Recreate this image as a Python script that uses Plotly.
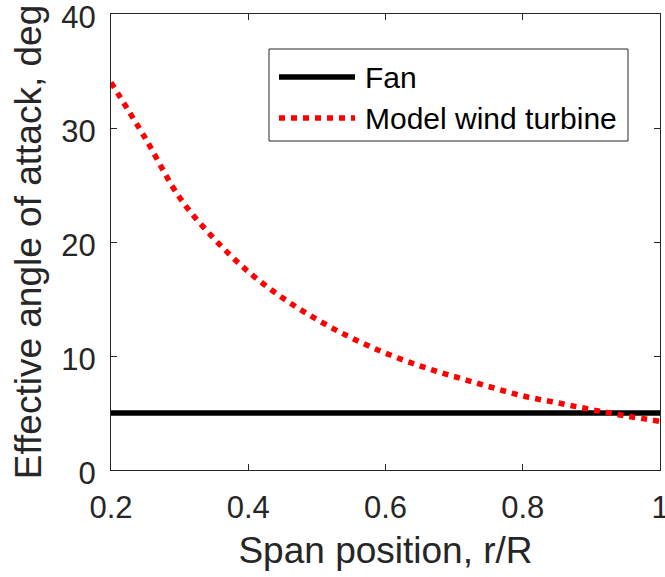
import plotly.graph_objects as go

# ---- data ----
span = [0.20, 0.25, 0.30, 0.35, 0.40, 0.45, 0.50, 0.55, 0.60, 0.65,
        0.70, 0.75, 0.80, 0.85, 0.90, 0.95, 1.00]
turbine_aoa = [34.0, 29.1, 23.9, 20.3, 17.4, 15.1, 13.2, 11.6, 10.25, 9.14,
               8.2, 7.33, 6.5, 5.9, 5.3, 4.75, 4.27]
fan_span = [0.2, 1.0]
fan_aoa = [5.0, 5.0]
series_names = ["Fan", "Model wind turbine"]
x_ticks = [0.2, 0.4, 0.6, 0.8, 1.0]
x_tick_text = ["0.2", "0.4", "0.6", "0.8", "1"]
y_ticks = [0, 10, 20, 30, 40]

W, H = 665, 577
L, R, T, B = 111, 5, 14, 107
PW, PH = W - L - R, H - T - B


def px(x):
    return (x - L) / PW


def py(y):
    return 1 - (y - T) / PH


FONT = "Liberation Sans, Arial, Helvetica, sans-serif"
AX = "#262626"

fig = go.Figure()
fig.add_trace(go.Scatter(x=fan_span, y=fan_aoa, mode="lines", name=series_names[0],
                         line=dict(color="black", width=5.5), showlegend=False))
fig.add_trace(go.Scatter(x=span, y=turbine_aoa, mode="lines", name=series_names[1],
                         line=dict(color="#ff0000", width=5.5, dash="6px,6px", shape="spline"),
                         showlegend=False))

axis_common = dict(showline=True, linecolor=AX, linewidth=1, mirror="ticks",
                   ticks="inside", ticklen=6, tickcolor=AX, tickwidth=1,
                   showgrid=False, zeroline=False, automargin=False,
                   ticklabeloverflow="allow",
                   tickfont=dict(family=FONT, size=31, color=AX))

fig.update_xaxes(range=[0.2, 1.0], tickvals=x_ticks, ticktext=x_tick_text,
                 ticklabelstandoff=10,
                 title=dict(text="Span position, r/R", font=dict(family=FONT, size=37, color=AX),
                            standoff=12),
                 **axis_common)
fig.update_yaxes(range=[0, 40], tickvals=y_ticks, ticklabelstandoff=8, ticklabelshift=3,
                 title=dict(text="Effective angle of attack, deg",
                            font=dict(family=FONT, size=37, color=AX), standoff=8),
                 **axis_common)

# ---- custom legend (MATLAB style) ----
shapes = [dict(type="rect", xref="paper", yref="paper",
               x0=px(269), x1=px(628), y0=py(141), y1=py(49),
               line=dict(color=AX, width=1), fillcolor="white", layer="above")]
annotations = []
legend_rows = [(series_names[0], 77, dict(color="black", width=5.5)),
               (series_names[1], 118, dict(color="#ff0000", width=5.5, dash="6px,6px"))]
for name, yy, ln in legend_rows:
    shapes.append(dict(type="line", xref="paper", yref="paper",
                       x0=px(279), x1=px(355), y0=py(yy), y1=py(yy), line=ln, layer="above"))
    annotations.append(dict(xref="paper", yref="paper", x=px(363), y=py(yy),
                            xanchor="left", yanchor="middle", text=name, showarrow=False,
                            font=dict(family=FONT, size=30, color="black")))

fig.update_layout(width=W, height=H, margin=dict(l=L, r=R, t=T, b=B),
                  plot_bgcolor="white", paper_bgcolor="white",
                  shapes=shapes, annotations=annotations, showlegend=False)

fig.write_html("out.html", config={"displayModeBar": False},
               post_script="document.body.style.margin='0';document.body.style.overflow='hidden';")
